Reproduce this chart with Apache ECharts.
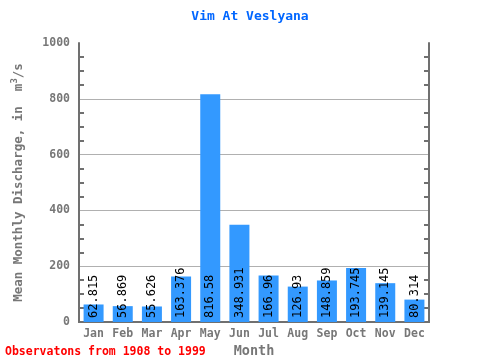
<!DOCTYPE html>
<html><head><meta charset="utf-8">
<script src="https://cdn.jsdelivr.net/npm/echarts@6/dist/echarts.min.js"></script>
<style>html,body{margin:0;padding:0;background:#fff}#c{width:480px;height:360px}</style>
</head><body><div id="c"></div>
<script>
var months = ['Jan','Feb','Mar','Apr','May','Jun','Jul','Aug','Sep','Oct','Nov','Dec'];
var discharge = [62.815, 56.869, 55.626, 163.376, 816.58, 348.931, 166.96, 126.93, 148.859, 193.745, 139.145, 80.314];
var yTicks = [0, 200, 400, 600, 800, 1000];

var FONT = 'DejaVu Sans Mono';
var AX = '#707070';
var chart = echarts.init(document.getElementById('c'));
chart.setOption({
  animation: false,
  title: {text: 'Vim At Veslyana', left: 245, top: 5, textAlign: 'center',
    textStyle: {fontFamily: FONT, fontSize: 13, fontWeight: 'bold', color: '#0066ff'}},
  graphic: [{type: 'text', left: 5, top: 346, style: {text: 'Observatons from 1908 to 1999', fontFamily: FONT, fontSize: 11.5, fontWeight: 'bold', fill: '#ff0000'}}],
  grid: {left: 79, right: 51, top: 43, bottom: 38, containLabel: false, outerBoundsMode: 'none'},
  xAxis: [{
    type: 'category', data: months, position: 'bottom',
    axisLine: {lineStyle: {color: AX, width: 2}},
    axisTick: {inside: true, length: 7, lineStyle: {color: AX, width: 2}},
    axisLabel: {fontFamily: FONT, fontSize: 11.5, fontWeight: 'bold', color: '#777', margin: 6},
    name: 'Month', nameLocation: 'middle', nameGap: 16,
    nameTextStyle: {fontFamily: FONT, fontSize: 13.5, fontWeight: 'bold', color: '#777'}
  }, {
    type: 'category', data: months, position: 'top',
    axisLine: {lineStyle: {color: AX, width: 2}},
    axisTick: {inside: true, length: 8, lineStyle: {color: AX, width: 2}},
    axisLabel: {show: false}
  }],
  yAxis: [{
    type: 'value', min: 0, max: 1000, interval: 200, position: 'left',
    axisLine: {show: true, lineStyle: {color: AX, width: 2}},
    axisTick: {inside: true, length: 8, lineStyle: {color: AX, width: 2}},
    minorTick: {show: true, splitNumber: 4, length: 5, lineStyle: {color: AX, width: 2}},
    splitLine: {show: true, lineStyle: {color: '#b0b0b0', width: 1}, showMinLine: false, showMaxLine: false},
    axisLabel: {fontFamily: FONT, fontSize: 11.5, fontWeight: 'bold', color: '#777', margin: 9,
      formatter: function(v){ return yTicks.indexOf(v) >= 0 ? String(v) : ''; }},
    name: 'Mean Monthly Discharge, in  m{s|3}/s', nameLocation: 'middle', nameGap: 52, nameRotate: 90,
    nameTextStyle: {fontFamily: FONT, fontSize: 12.5, fontWeight: 'bold', color: '#777',
      rich: {s: {fontFamily: FONT, fontSize: 9, fontWeight: 'bold', color: '#777', verticalAlign: 'bottom', padding: [0,0,8,0]}}}
  }, {
    type: 'value', min: 0, max: 1000, interval: 200, position: 'right',
    axisLine: {show: true, lineStyle: {color: AX, width: 2}},
    axisTick: {inside: true, length: 8, lineStyle: {color: AX, width: 2}},
    minorTick: {show: true, splitNumber: 4, length: 5, lineStyle: {color: AX, width: 2}},
    splitLine: {show: false},
    axisLabel: {show: false}
  }],
  series: [{
    type: 'bar', data: discharge, barWidth: 20,
    itemStyle: {color: '#3399ff'},
    label: {show: true, position: 'insideBottom', rotate: 90, align: 'left', verticalAlign: 'middle', distance: 4,
      fontFamily: FONT, fontSize: 12, color: '#000'}
  }]
});
</script></body></html>
